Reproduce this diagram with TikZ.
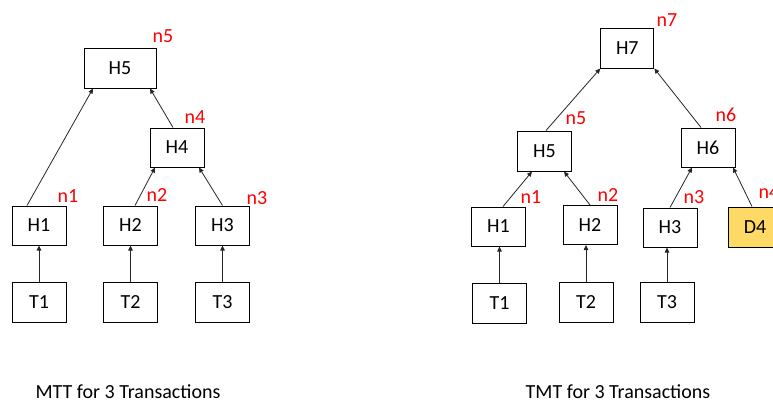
\documentclass[tikz,border=0pt]{standalone}
\usepackage{fontspec}
\setmainfont{Carlito}
\usetikzlibrary{arrows.meta}
\definecolor{dgold}{HTML}{FFD966}
\definecolor{lblred}{HTML}{FF0000}
\tikzset{
  hbox/.style={draw=black, line width=1pt, inner sep=0pt, minimum width=54pt, minimum height=39pt, font=\fontsize{20}{22}\selectfont},
  nlbl/.style={text=lblred, inner sep=0pt, font=\fontsize{20}{22}\selectfont},
  capt/.style={inner sep=0pt, anchor=base, font=\fontsize{20}{22}\selectfont},
  arr/.style={-{Triangle[length=5pt,width=4.5pt]}, line width=0.8pt, draw=black!85}
}
\begin{document}
\begin{tikzpicture}[x=1pt,y=-1pt]
\useasboundingbox (0,0) rectangle (773,400);
% ---------- left tree (MTT)
\node[hbox, minimum width=72pt, minimum height=40pt] (L5) at (120,68) {H5};
\node[hbox] (L4) at (177,147.5) {H4};
\node[hbox] (L1) at (39,225.5) {H1};
\node[hbox] (L2) at (130.5,225.5) {H2};
\node[hbox] (L3) at (222.5,225.5) {H3};
\node[hbox, minimum height=40pt] (LT1) at (39,302) {T1};
\node[hbox, minimum height=40pt] (LT2) at (130.5,302) {T2};
\node[hbox, minimum height=40pt] (LT3) at (222.5,302) {T3};
\node[nlbl] (Ln5) at (163,36) {n5};
\node[nlbl] (Ln4) at (195,117) {n4};
\node[nlbl] (Ln1) at (68,196) {n1};
\node[nlbl] (Ln2) at (157,195) {n2};
\node[nlbl] (Ln3) at (257,198) {n3};
\draw[arr] ([xshift=-12pt]L1.north) -- ([xshift=-27pt]L5.south);
\draw[arr] ([xshift=-4pt]L4.north) -- ([xshift=30pt]L5.south);
\draw[arr] ([xshift=4.5pt]L2.north) -- ([xshift=-22pt]L4.south);
\draw[arr] (L3.north) -- ([xshift=22pt]L4.south);
\draw[arr] (LT1.north) -- (L1.south);
\draw[arr] (LT2.north) -- (L2.south);
\draw[arr] (LT3.north) -- (L3.south);
\node[capt] (Lcap) at (128,398) {MTT for 3 Transactions};
% ---------- right tree (TMT)
\node[hbox, minimum width=53pt, minimum height=40pt] (R7) at (627.3,48) {H7};
\node[hbox, minimum height=40pt] (R5) at (544.5,151) {H5};
\node[hbox] (R6) at (708,147.5) {H6};
\node[hbox] (R1) at (498.5,226.5) {H1};
\node[hbox] (R2) at (590,225) {H2};
\node[hbox] (R3) at (670,227.5) {H3};
\node[hbox, minimum height=40pt, fill=dgold] (R4) at (755,227) {D4};
\node[hbox, minimum height=40pt] (RT1) at (499.5,303) {T1};
\node[hbox, minimum height=40pt] (RT2) at (586,302) {T2};
\node[hbox, minimum height=40pt] (RT3) at (667,302) {T3};
\node[nlbl] (Rn7) at (667,20) {n7};
\node[nlbl] (Rn5) at (576,118) {n5};
\node[nlbl] (Rn6) at (726,115) {n6};
\node[nlbl] (Rn1) at (531,197) {n1};
\node[nlbl] (Rn2) at (608,195) {n2};
\node[nlbl] (Rn3) at (694,197) {n3};
\node[nlbl] (Rn4) at (769,192) {n4};
\draw[arr] ([xshift=1.5pt]R5.north) -- (R7.south west);
\draw[arr] ([xshift=-7pt]R6.north) -- (R7.south east);
\draw[arr] ([xshift=4.5pt]R1.north) -- ([xshift=-12.5pt]R5.south);
\draw[arr] (R2.north) -- ([xshift=19.5pt]R5.south);
\draw[arr] (R3.north) -- ([xshift=-16pt]R6.south);
\draw[arr] ([xshift=-3pt]R4.north) -- ([xshift=25pt]R6.south);
\draw[arr] (RT1.north) -- (RT1.north |- R1.south);
\draw[arr] (RT2.north) -- (RT2.north |- R2.south);
\draw[arr] (RT3.north) -- (RT3.north |- R3.south);
\node[capt] (Rcap) at (618,398) {TMT for 3 Transactions};
\end{tikzpicture}
\end{document}
